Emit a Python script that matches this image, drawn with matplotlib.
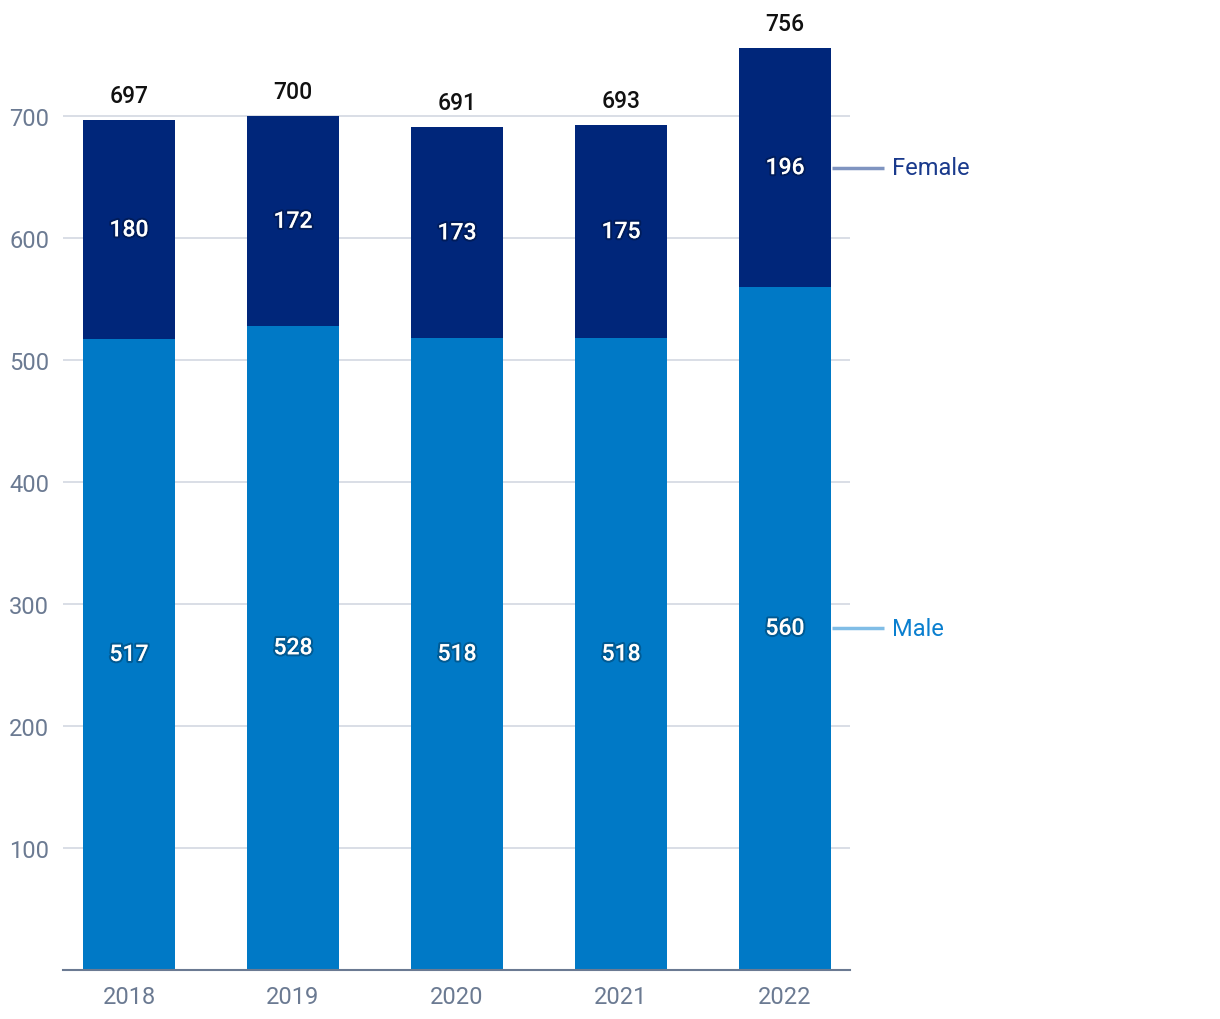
import matplotlib.pyplot as plt
import matplotlib.patheffects as pe

years = ["2018", "2019", "2020", "2021", "2022"]
male = [517, 528, 518, 518, 560]
female = [180, 172, 173, 175, 196]
totals = [697, 700, 691, 693, 756]

male_color = "#0079c6"
female_color = "#00267a"

plt.rcParams['font.family'] = ['Roboto', 'DejaVu Sans']

fig = plt.figure(figsize=(12.2, 10.2), dpi=100)
ax = fig.add_axes([63 / 1220, 49.5 / 1020, 787 / 1220, (969 - 18.5) / 1020])

x = list(range(len(years)))
w = 0.561
ax.bar(x, male, width=w, color=male_color, zorder=2)
ax.bar(x, female, width=w, bottom=male, color=female_color, zorder=2)

shadow = [pe.withStroke(linewidth=3, foreground=(0, 0, 0, 0.25))]
for i in x:
    ax.text(i, male[i] / 2, str(male[i]), ha="center", va="center",
            color="white", fontsize=16.5, fontweight="medium", path_effects=shadow, zorder=3)
    ax.text(i, male[i] + female[i] / 2, str(female[i]), ha="center", va="center",
            color="white", fontsize=16.5, fontweight="medium", path_effects=shadow, zorder=3)
    ax.text(i, totals[i] + 11, str(totals[i]), ha="center", va="bottom",
            color="#111111", fontsize=16.5, fontweight="medium", zorder=3)

# series labels on the right, next to the last bar
last = len(years) - 1
ax.plot([last + w / 2 + 0.006, last + w / 2 + 0.32], [male[last] + female[last] / 2] * 2,
        color="#7f94c0", lw=2.5, clip_on=False, solid_capstyle="butt")
ax.text(last + w / 2 + 0.37, male[last] + female[last] / 2, "Female", va="center",
        ha="left", color="#1a3a8c", fontsize=17)
ax.plot([last + w / 2 + 0.006, last + w / 2 + 0.32], [male[last] / 2] * 2,
        color="#80bde6", lw=2.5, clip_on=False, solid_capstyle="butt")
ax.text(last + w / 2 + 0.37, male[last] / 2, "Male", va="center",
        ha="left", color="#0a7fcf", fontsize=17)

ax.set_xlim(-0.402, 4.396)
ax.set_ylim(0, 780)
ax.set_xticks(x)
ax.set_xticklabels(years)
ax.set_yticks([100, 200, 300, 400, 500, 600, 700])
ax.tick_params(axis="both", length=0, labelsize=17, colors="#6b7a92")
ax.tick_params(axis="x", pad=11)
ax.tick_params(axis="y", pad=10)
ax.grid(axis="y", color="#d3d8e2", lw=1.2, zorder=0)
for s in ["top", "right", "left"]:
    ax.spines[s].set_visible(False)
ax.spines["bottom"].set_color("#6b7a92")
ax.spines["bottom"].set_linewidth(1.5)
ax.spines["bottom"].set_zorder(4)

fig.savefig("out.png", dpi=100)
